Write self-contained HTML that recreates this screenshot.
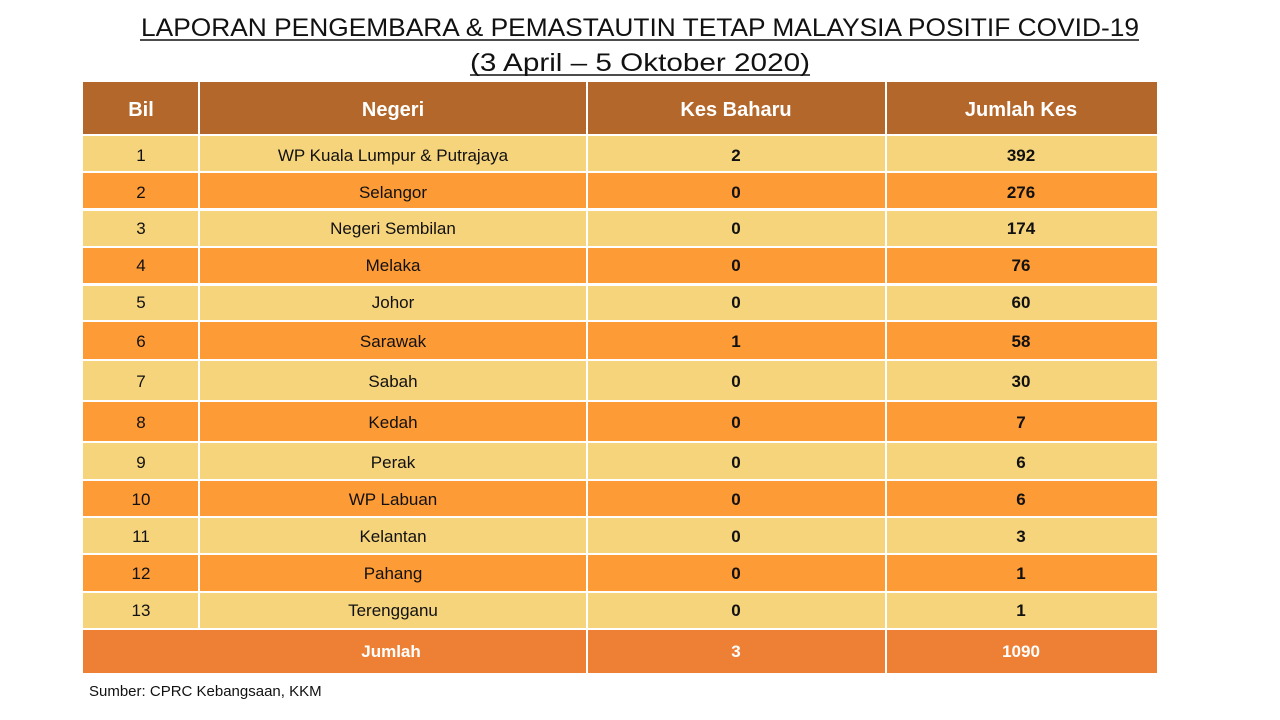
<!DOCTYPE html>
<html><head><meta charset="utf-8"><style>html,body{margin:0;padding:0;background:#fff}svg{display:block}</style></head>
<body>
<svg width="1280" height="720" xmlns="http://www.w3.org/2000/svg" font-family="Liberation Sans, sans-serif">
<rect width="1280" height="720" fill="#fff"/>
<text x="640" y="36" font-size="25" text-anchor="middle" textLength="998" lengthAdjust="spacingAndGlyphs" fill="#111">LAPORAN PENGEMBARA &amp; PEMASTAUTIN TETAP MALAYSIA POSITIF COVID-19</text>
<line x1="140" y1="40" x2="1139" y2="40" stroke="#111" stroke-width="1.5"/>
<text x="640" y="71" font-size="25" text-anchor="middle" textLength="340" lengthAdjust="spacingAndGlyphs" fill="#111">(3 April –  5 Oktober 2020)</text>
<line x1="470" y1="75" x2="810" y2="75" stroke="#111" stroke-width="1.5"/>
<g>
<rect x="83" y="82" width="1074" height="52" fill="#b3672a"/>
<rect x="83" y="136" width="1074" height="35" fill="#f6d47c"/>
<rect x="83" y="173" width="1074" height="35" fill="#fd9b36"/>
<rect x="83" y="211" width="1074" height="35" fill="#f6d47c"/>
<rect x="83" y="248" width="1074" height="35" fill="#fd9b36"/>
<rect x="83" y="286" width="1074" height="34" fill="#f6d47c"/>
<rect x="83" y="322" width="1074" height="37" fill="#fd9b36"/>
<rect x="83" y="361" width="1074" height="39" fill="#f6d47c"/>
<rect x="83" y="402" width="1074" height="39" fill="#fd9b36"/>
<rect x="83" y="443" width="1074" height="36" fill="#f6d47c"/>
<rect x="83" y="481" width="1074" height="35" fill="#fd9b36"/>
<rect x="83" y="518" width="1074" height="35" fill="#f6d47c"/>
<rect x="83" y="555" width="1074" height="36" fill="#fd9b36"/>
<rect x="83" y="593" width="1074" height="35" fill="#f6d47c"/>
<rect x="83" y="630" width="1074" height="43" fill="#ee8035"/>
<line x1="199" y1="82" x2="199" y2="629" stroke="#fff" stroke-width="2"/>
<line x1="587" y1="82" x2="587" y2="673" stroke="#fff" stroke-width="2"/>
<line x1="886" y1="82" x2="886" y2="673" stroke="#fff" stroke-width="2"/>
</g>
<g font-size="20" font-weight="bold" fill="#fff" text-anchor="middle">
<text x="141" y="116">Bil</text><text x="393" y="116">Negeri</text><text x="736" y="116">Kes Baharu</text><text x="1021" y="116">Jumlah Kes</text>
</g>
<g font-size="17" fill="#111" text-anchor="middle">
<text x="141" y="161">1</text><text x="393" y="161">WP Kuala Lumpur &amp; Putrajaya</text>
<text x="141" y="198">2</text><text x="393" y="198">Selangor</text>
<text x="141" y="234">3</text><text x="393" y="234">Negeri Sembilan</text>
<text x="141" y="271">4</text><text x="393" y="271">Melaka</text>
<text x="141" y="308">5</text><text x="393" y="308">Johor</text>
<text x="141" y="347">6</text><text x="393" y="347">Sarawak</text>
<text x="141" y="387">7</text><text x="393" y="387">Sabah</text>
<text x="141" y="428">8</text><text x="393" y="428">Kedah</text>
<text x="141" y="468">9</text><text x="393" y="468">Perak</text>
<text x="141" y="505">10</text><text x="393" y="505">WP Labuan</text>
<text x="141" y="542">11</text><text x="393" y="542">Kelantan</text>
<text x="141" y="579">12</text><text x="393" y="579">Pahang</text>
<text x="141" y="616">13</text><text x="393" y="616">Terengganu</text>
</g>
<g font-size="17" font-weight="bold" fill="#111" text-anchor="middle">
<text x="736" y="161">2</text><text x="1021" y="161">392</text>
<text x="736" y="198">0</text><text x="1021" y="198">276</text>
<text x="736" y="234">0</text><text x="1021" y="234">174</text>
<text x="736" y="271">0</text><text x="1021" y="271">76</text>
<text x="736" y="308">0</text><text x="1021" y="308">60</text>
<text x="736" y="347">1</text><text x="1021" y="347">58</text>
<text x="736" y="387">0</text><text x="1021" y="387">30</text>
<text x="736" y="428">0</text><text x="1021" y="428">7</text>
<text x="736" y="468">0</text><text x="1021" y="468">6</text>
<text x="736" y="505">0</text><text x="1021" y="505">6</text>
<text x="736" y="542">0</text><text x="1021" y="542">3</text>
<text x="736" y="579">0</text><text x="1021" y="579">1</text>
<text x="736" y="616">0</text><text x="1021" y="616">1</text>
</g>
<g font-size="17" font-weight="bold" fill="#fff" text-anchor="middle">
<text x="391" y="657">Jumlah</text><text x="736" y="657">3</text><text x="1021" y="657">1090</text>
</g>
<text x="89" y="696" font-size="15" fill="#111">Sumber: CPRC Kebangsaan, KKM</text>
</svg>
</body></html>
